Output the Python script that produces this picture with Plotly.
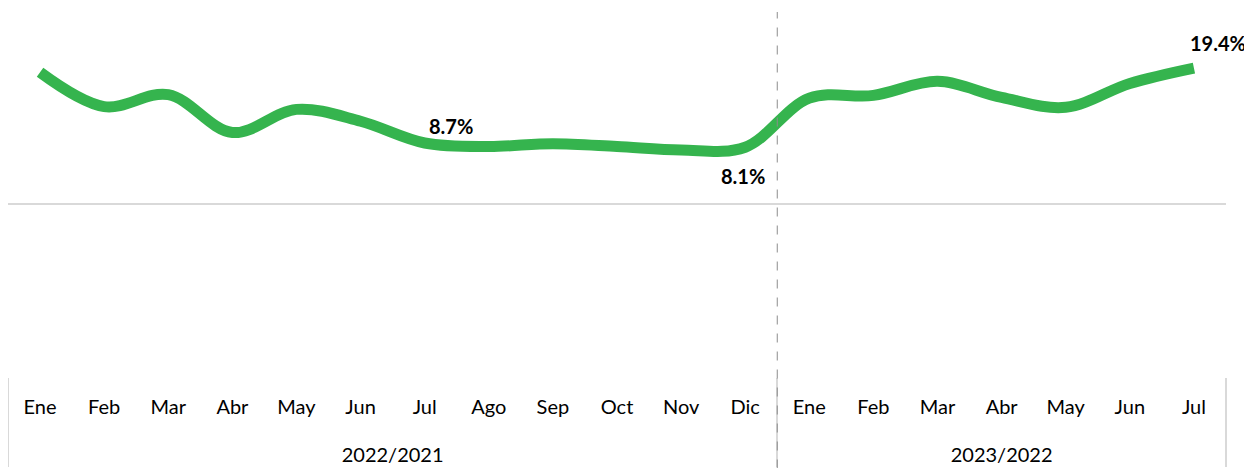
import plotly.graph_objects as go

years = ["2022/2021"] * 12 + ["2023/2022"] * 7
months = ["Ene", "Feb", "Mar", "Abr", "May", "Jun", "Jul", "Ago", "Sep", "Oct", "Nov", "Dic",
          "Ene", "Feb", "Mar", "Abr", "May", "Jun", "Jul"]
values = [18.8, 13.9, 15.6, 10.2, 13.5, 11.8, 8.7, 8.2, 8.6, 8.2, 7.7, 8.1,
          15.1, 15.5, 17.5, 15.2, 13.8, 17.2, 19.4]
labelled = [6, 11, 18]

green = "#35B44E"
FONT = "Lato, 'Open Sans', sans-serif"

# month labels get an empty (tall) second line to push the year row lower
month_ticks = [m + "<br><span style='font-size:52px'> </span>" for m in months]

fig = go.Figure()
fig.add_trace(go.Scatter(
    x=[years, month_ticks], y=values, mode="lines",
    line=dict(color=green, width=11, shape="spline", smoothing=1.0),
    hoverinfo="skip", showlegend=False,
))

label_pos = {6: (26, 17), 11: (-2, -29), 18: (24, 25)}
for i in labelled:
    dx, dy = label_pos[i]
    fig.add_annotation(
        x=i, y=values[i], xref="x", yref="y",
        text=f"<b>{values[i]:.1f}%</b>", showarrow=False,
        xshift=dx, yshift=dy,
        font=dict(family=FONT, size=20, color="#000000"),
    )

fig.add_shape(type="line", xref="x", yref="paper", x0=11.5, x1=11.5, y0=-0.3, y1=1.0,
              line=dict(color="#8c8c8c", width=1, dash="dash"))

fig.update_layout(
    width=1252, height=468,
    margin=dict(l=0, r=34, t=4, b=99),
    paper_bgcolor="white", plot_bgcolor="white",
    font=dict(family=FONT, size=20, color="#000000"),
    xaxis=dict(
        type="multicategory", showgrid=False, showline=False, ticks="",
        ticklabelstandoff=16,
        showdividers=True, dividercolor="#d9d9d9", dividerwidth=2,
        tickfont=dict(family=FONT, size=20, color="#000000"), range=[-0.5, 18.5],
    ),
    yaxis=dict(
        range=[-24.7, 27.4], showgrid=False, showticklabels=False, ticks="",
        zeroline=True, zerolinecolor="#d9d9d9", zerolinewidth=2, showline=False,
    ),
)

fig.write_html("out.html")
